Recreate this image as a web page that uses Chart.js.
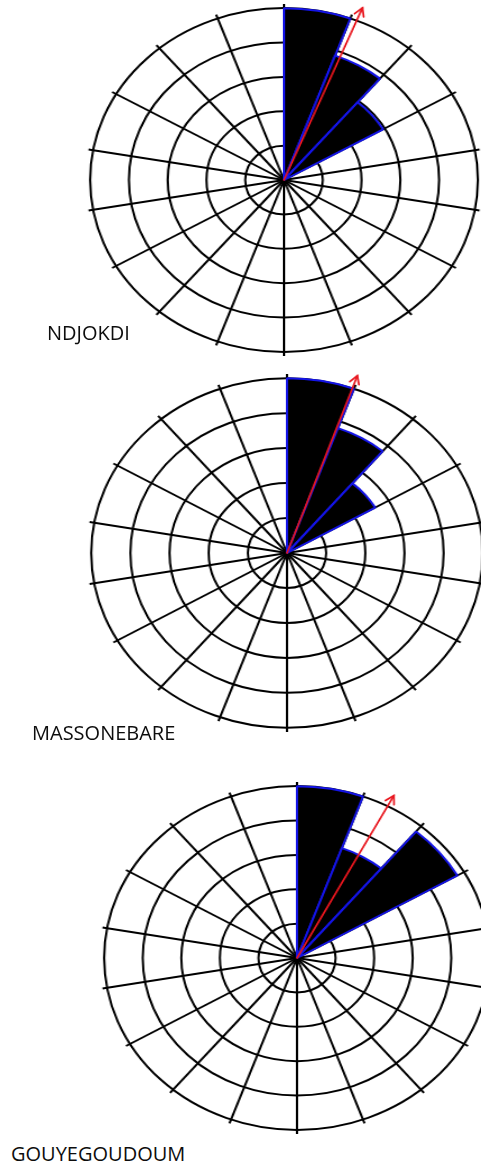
<!DOCTYPE html>
<html><head><meta charset="utf-8">
<script src="https://cdn.jsdelivr.net/npm/chart.js@4.4.1/dist/chart.umd.min.js"></script>
<style>
html,body{margin:0;padding:0;background:#fff;width:481px;height:1166px;overflow:hidden;position:relative;}
.wrap{position:absolute;}
.wrap canvas{display:block;}
.lbl{position:absolute;font-family:"Open Sans",sans-serif;font-size:20px;line-height:20px;color:#0d0d0d;white-space:nowrap;}
</style></head><body>
<div class="wrap" id="w0"><canvas id="c0"></canvas></div>
<div class="wrap" id="w1"><canvas id="c1"></canvas></div>
<div class="wrap" id="w2"><canvas id="c2"></canvas></div>
<div class="lbl" id="l0"></div>
<div class="lbl" id="l1"></div>
<div class="lbl" id="l2"></div>
<script>
// ---- data ----
const directions = ['0°','20°','40°','60°','80°','100°','120°','140°','160°','180°','200°','220°','240°','260°','280°','300°','320°','340°'];
const ndjokdiValues      = [5, 3.85, 2.95, 0, 0, 0, 0, 0, 0, 0, 0, 0, 0, 0, 0, 0, 0, 0];
const massonebareValues  = [5, 3.8, 2.6, 0, 0, 0, 0, 0, 0, 0, 0, 0, 0, 0, 0, 0, 0, 0];
const gouyegoudoumValues = [5, 3.4, 4.8, 0, 0, 0, 0, 0, 0, 0, 0, 0, 0, 0, 0, 0, 0, 0];
const stationNames = ['NDJOKDI', 'MASSONEBARE', 'GOUYEGOUDOUM'];
const meanAngles  = [22, 19.5, 28];
const meanLengths = [5.4, 5.38, 5.35];
const ringMax = 5;
const ringStep = 1;

// ---- layout ----
const axisMax = 5.12;
const layouts = [
  {cx: 283.5, cy: 180, ry: 172, rx: 194, lx: 47, lb: 341},
  {cx: 286.5, cy: 553, ry: 175, rx: 196, lx: 32, lb: 741},
  {cx: 296.7, cy: 958, ry: 172, rx: 193, lx: 11, lb: 1162}
];
const seriesList = [ndjokdiValues, massonebareValues, gouyegoudoumValues];

const arrowPlugin = {
  id: 'meanArrow',
  afterDatasetsDraw(chart, args, opts) {
    const s = chart.scales.r, ctx = chart.ctx;
    const d = s.getDistanceFromCenterForValue(opts.length);
    const a = opts.angle * Math.PI / 180 - Math.PI / 2;
    const x = s.xCenter + Math.cos(a) * d, y = s.yCenter + Math.sin(a) * d;
    ctx.save();
    ctx.strokeStyle = '#e8161e';
    ctx.lineWidth = 1.7;
    ctx.lineCap = 'round';
    ctx.beginPath(); ctx.moveTo(s.xCenter, s.yCenter); ctx.lineTo(x, y); ctx.stroke();
    const h = 9, sp = 0.5;
    ctx.beginPath();
    ctx.moveTo(x - Math.cos(a - sp) * h, y - Math.sin(a - sp) * h);
    ctx.lineTo(x, y);
    ctx.lineTo(x - Math.cos(a + sp) * h, y - Math.sin(a + sp) * h);
    ctx.stroke();
    ctx.restore();
  }
};

layouts.forEach((L, i) => {
  const R = Math.round(L.ry * axisMax / ringMax);
  const S = 2 * R;
  const w = document.getElementById('w' + i);
  const c = document.getElementById('c' + i);
  c.width = S; c.height = S;
  c.style.width = S + 'px'; c.style.height = S + 'px';
  w.style.left = (L.cx - R) + 'px';
  w.style.top = (L.cy - R) + 'px';
  w.style.width = S + 'px'; w.style.height = S + 'px';
  w.style.transformOrigin = R + 'px ' + R + 'px';
  w.style.transform = 'scaleX(' + (L.rx / L.ry).toFixed(4) + ')';

  const lbl = document.getElementById('l' + i);
  lbl.textContent = stationNames[i];
  lbl.style.left = L.lx + 'px';
  lbl.style.top = (L.lb - 17.8) + 'px';

  new Chart(c, {
    type: 'polarArea',
    data: {
      labels: directions,
      datasets: [{
        data: seriesList[i],
        backgroundColor: '#000000',
        borderColor: '#1414e6',
        borderWidth: (ctx) => (ctx.raw > 0 ? 2 : 0)
      }]
    },
    options: {
      responsive: false,
      animation: false,
      devicePixelRatio: 1,
      layout: {padding: 0},
      plugins: {
        legend: {display: false},
        tooltip: {enabled: false},
        meanArrow: {angle: meanAngles[i], length: meanLengths[i]}
      },
      scales: {
        r: {
          min: 0,
          max: axisMax,
          startAngle: 0,
          ticks: {display: false, stepSize: ringStep, includeBounds: false},
          pointLabels: {display: false},
          grid: {
            circular: true,
            lineWidth: 2,
            color: (ctx) => (ctx.tick && ctx.tick.value > ringMax + 0.001 ? 'rgba(0,0,0,0)' : '#000000')
          },
          angleLines: {display: true, color: '#000000', lineWidth: 2}
        }
      }
    },
    plugins: [arrowPlugin]
  });
});
</script>
</body></html>
